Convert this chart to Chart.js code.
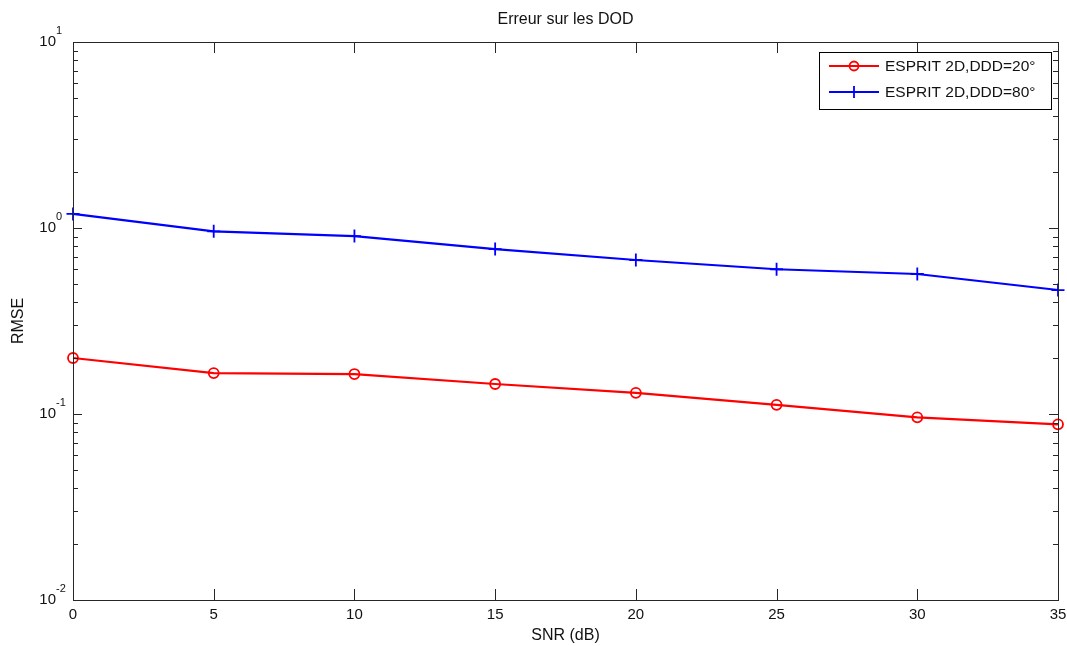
<!DOCTYPE html>
<html><head><meta charset="utf-8">
<script src="https://cdn.jsdelivr.net/npm/chart.js@4/dist/chart.umd.min.js"></script>
<style>html,body{margin:0;padding:0;background:#fff}#wrap{width:1067px;height:646px}</style>
</head><body><div id="wrap"><canvas id="c" width="1067" height="646"></canvas></div>
<script>
const snr = [0, 5, 10, 15, 20, 25, 30, 35];
const rmse20 = [0.200, 0.166, 0.164, 0.145, 0.130, 0.112, 0.096, 0.088];
const rmse80 = [1.19, 0.96, 0.905, 0.77, 0.673, 0.600, 0.566, 0.464];
const xTicks = [0, 5, 10, 15, 20, 25, 30, 35];
const yTickExp = [-2, -1, 0, 1];
const seriesLabels = ['ESPRIT 2D,DDD=20°', 'ESPRIT 2D,DDD=80°'];
const titleText = 'Erreur sur les DOD';
const xTitle = 'SNR (dB)';
const yTitle = 'RMSE';

const FONT = '"Liberation Sans", Arial, Helvetica, sans-serif';

const matlabAxes = {
  id: 'matlabAxes',
  afterDatasetsDraw(chart) {
    const ctx = chart.ctx, a = chart.chartArea;
    const xs = chart.scales.x, ys = chart.scales.y;
    ctx.save();
    ctx.strokeStyle = '#262626';
    ctx.lineWidth = 1;
    ctx.beginPath();
    xTicks.forEach(v => {
      const px = Math.round(xs.getPixelForValue(v)) + 0.5;
      ctx.moveTo(px, a.bottom); ctx.lineTo(px, a.bottom - 11);
      ctx.moveTo(px, a.top); ctx.lineTo(px, a.top + 11);
    });
    for (let e = yTickExp[0]; e <= yTickExp[yTickExp.length - 1]; e++) {
      for (let m = 1; m <= 9; m++) {
        if (e === yTickExp[yTickExp.length - 1] && m > 1) break;
        const py = Math.round(ys.getPixelForValue(m * Math.pow(10, e))) + 0.5;
        const len = m === 1 ? 9 : 5;
        ctx.moveTo(a.left, py); ctx.lineTo(a.left + len, py);
        ctx.moveTo(a.right, py); ctx.lineTo(a.right - len, py);
      }
    }
    ctx.stroke();
    ctx.strokeRect(Math.round(a.left) + 0.5, Math.round(a.top) + 0.5,
      Math.round(a.right - a.left), Math.round(a.bottom - a.top));
    ctx.fillStyle = '#111';
    ctx.font = '15px ' + FONT;
    ctx.textAlign = 'center'; ctx.textBaseline = 'middle';
    xTicks.forEach(v => ctx.fillText(String(v), xs.getPixelForValue(v), a.bottom + 15));
    yTickExp.forEach(e => {
      const py = ys.getPixelForValue(Math.pow(10, e));
      ctx.font = '15px ' + FONT;
      ctx.textAlign = 'right'; ctx.textBaseline = 'middle';
      ctx.fillText('10', 56, py);
      ctx.font = '11px ' + FONT;
      ctx.textAlign = 'left';
      ctx.fillText(String(e), 56, py - 11);
    });
    ctx.font = '16px ' + FONT;
    ctx.textAlign = 'center'; ctx.textBaseline = 'middle';
    ctx.fillText(titleText, (a.left + a.right) / 2, 20);
    ctx.fillText(xTitle, (a.left + a.right) / 2, 636);
    ctx.save();
    ctx.translate(19, 321);
    ctx.rotate(-Math.PI / 2);
    ctx.fillText(yTitle, 0, 0);
    ctx.restore();
    const lx = 819, ly = 52, lw = 232, lh = 57;
    ctx.fillStyle = '#fff';
    ctx.fillRect(lx, ly, lw, lh);
    ctx.strokeStyle = '#000';
    ctx.lineWidth = 1;
    ctx.strokeRect(lx + 0.5, ly + 0.5, lw, lh);
    const rows = [66, 92];
    chart.data.datasets.forEach((ds, i) => {
      const y = rows[i];
      ctx.strokeStyle = ds.borderColor;
      ctx.lineWidth = 2.2;
      ctx.beginPath(); ctx.moveTo(829, y); ctx.lineTo(879, y); ctx.stroke();
      ctx.lineWidth = 1.8;
      ctx.beginPath();
      if (ds.pointStyle === 'circle') {
        ctx.arc(854, y, 4.5, 0, Math.PI * 2);
      } else {
        ctx.moveTo(848, y); ctx.lineTo(860, y);
        ctx.moveTo(854, y - 6); ctx.lineTo(854, y + 6);
      }
      ctx.stroke();
      ctx.fillStyle = '#111';
      ctx.font = '15.5px ' + FONT;
      ctx.textAlign = 'left'; ctx.textBaseline = 'middle';
      ctx.fillText(ds.label, 885, y + 1);
    });
    ctx.restore();
  }
};

new Chart(document.getElementById('c'), {
  type: 'line',
  data: {
    labels: snr,
    datasets: [
      {
        label: seriesLabels[0],
        data: snr.map((x, i) => ({ x, y: rmse20[i] })),
        borderColor: '#ff0000', backgroundColor: 'rgba(0,0,0,0)',
        borderWidth: 2.2, pointStyle: 'circle', pointRadius: 5,
        pointBorderWidth: 1.8, pointBorderColor: '#ff0000',
        pointBackgroundColor: 'rgba(0,0,0,0)', tension: 0
      },
      {
        label: seriesLabels[1],
        data: snr.map((x, i) => ({ x, y: rmse80[i] })),
        borderColor: '#0000ff', backgroundColor: 'rgba(0,0,0,0)',
        borderWidth: 2.2, pointStyle: 'cross', pointRadius: 6.5,
        pointBorderWidth: 1.8, pointBorderColor: '#0000ff', tension: 0
      }
    ]
  },
  options: {
    responsive: false, animation: false,
    layout: { padding: { left: 73, top: 42, right: 9, bottom: 46 } },
    plugins: { legend: { display: false }, title: { display: false }, tooltip: { enabled: false } },
    scales: {
      x: { type: 'linear', min: 0, max: 35, display: false },
      y: { type: 'logarithmic', min: 0.01, max: 10, display: false }
    },
    clip: false
  },
  plugins: [matlabAxes]
});
</script></body></html>
